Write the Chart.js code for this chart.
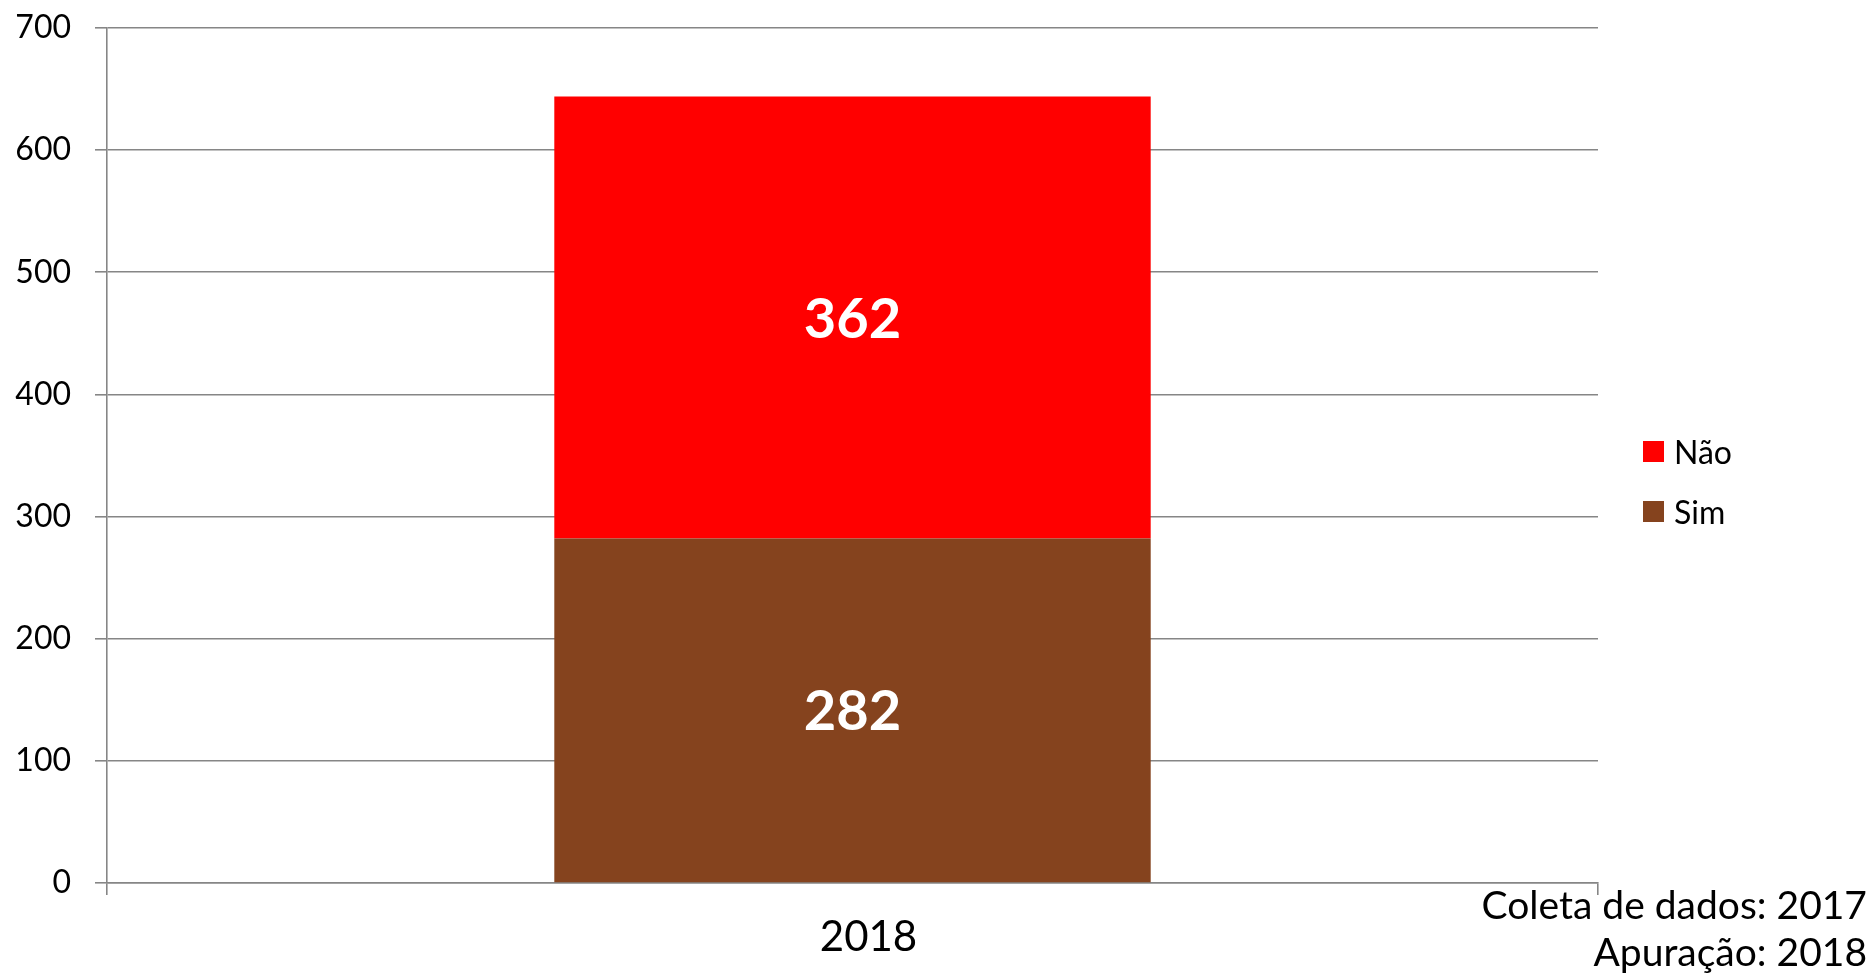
<!DOCTYPE html>
<html>
<head>
<meta charset="utf-8">
<script src="https://cdn.jsdelivr.net/npm/chart.js@4/dist/chart.umd.min.js"></script>
<style>
  html, body { margin: 0; padding: 0; background: #ffffff; }
  #wrap { position: relative; width: 1873px; height: 973px; overflow: hidden; font-family: Lato, "Open Sans", sans-serif; }
  canvas { position: absolute; left: 0; top: 0; }
  #legend { position: absolute; left: 1643px; top: 431px; font-size: 32px; color: #000; }
  .li { display: flex; align-items: center; height: 40px; margin-bottom: 20px; }
  .sw { width: 21px; height: 21px; margin-right: 10px; }
  #foot { position: absolute; right: 6px; top: 881px; text-align: right; font-size: 39px; line-height: 47px; color: #000; }
</style>
</head>
<body>
<div id="wrap">
  <canvas id="c" width="1873" height="973"></canvas>
  <div id="legend"></div>
  <div id="foot"><div>Coleta de dados: 2017</div><div>Apuração: 2018</div></div>
</div>
<script>
const categories = ["2018"];
const simValues = [282];
const naoValues = [362];
const seriesNames = ["Sim", "Não"];
const seriesColors = ["#85431E", "#FF0000"];
const yTicks = [0, 100, 200, 300, 400, 500, 600, 700];

const datasets = [
  { label: seriesNames[0], data: simValues, backgroundColor: seriesColors[0] },
  { label: seriesNames[1], data: naoValues, backgroundColor: seriesColors[1] }
];

const valueLabels = {
  id: 'valueLabels',
  afterDatasetsDraw(chart) {
    const ctx = chart.ctx;
    ctx.save();
    ctx.fillStyle = '#ffffff';
    ctx.font = 'bold 56px Lato, "Open Sans", sans-serif';
    ctx.textAlign = 'center';
    ctx.textBaseline = 'middle';
    chart.data.datasets.forEach((ds, i) => {
      chart.getDatasetMeta(i).data.forEach((bar, j) => {
        const p = bar.getProps(['x', 'y', 'base'], true);
        ctx.fillText(String(ds.data[j]), p.x, (p.y + p.base) / 2 + 2);
      });
    });
    ctx.restore();
  }
};

new Chart(document.getElementById('c'), {
  type: 'bar',
  data: { labels: categories, datasets: datasets },
  plugins: [valueLabels],
  options: {
    responsive: false,
    animation: false,
    layout: { padding: { top: 28, right: 275, bottom: 0, left: 0 } },
    plugins: { legend: { display: false }, tooltip: { enabled: false } },
    datasets: { bar: { barPercentage: 0.4, categoryPercentage: 1.0 } },
    scales: {
      x: {
        stacked: true,
        grid: { display: true, drawOnChartArea: false, drawTicks: true, tickLength: 12, color: '#868686', lineWidth: 1.6, offset: true },
        border: { display: true, color: '#868686', width: 1.6 },
        ticks: { color: '#000', font: { family: 'Lato', size: 42 }, padding: 17, labelOffset: 16 },
        afterFit(axis) { axis.height = 90; axis.paddingLeft = 0; axis.paddingRight = 0; }
      },
      y: {
        stacked: true,
        min: 0, max: 700,
        afterBuildTicks(axis) { axis.ticks = yTicks.map(v => ({ value: v })); },
        grid: { color: '#868686', lineWidth: 1.6, tickLength: 12 },
        border: { display: true, color: '#868686', width: 1.6 },
        ticks: { color: '#000', font: { family: 'Lato', size: 32 }, padding: 24 },
        afterFit(axis) { axis.width = 107; axis.paddingTop = 0; axis.paddingBottom = 0; }
      }
    }
  }
});

const legendEl = document.getElementById('legend');
for (let i = seriesNames.length - 1; i >= 0; i--) {
  const row = document.createElement('div');
  row.className = 'li';
  const sw = document.createElement('div');
  sw.className = 'sw';
  sw.style.background = seriesColors[i];
  const t = document.createElement('span');
  t.textContent = seriesNames[i];
  row.appendChild(sw); row.appendChild(t);
  legendEl.appendChild(row);
}
</script>
</body>
</html>
